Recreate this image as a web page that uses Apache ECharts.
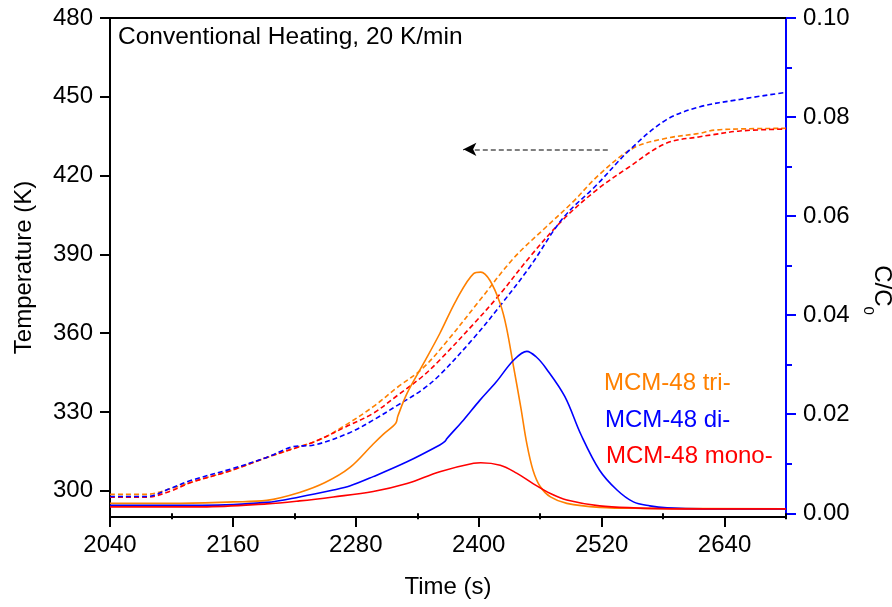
<!DOCTYPE html>
<html><head><meta charset="utf-8">
<script src="https://cdn.jsdelivr.net/npm/echarts@6/dist/echarts.min.js"></script>
<style>html,body{margin:0;padding:0;background:#fff}#c{width:892px;height:607px}</style>
</head><body><div id="c"></div>
<script>
// ---- tick labels ----
const timeTicks = [2040, 2160, 2280, 2400, 2520, 2640];
const timeMinorTicks = [2100, 2220, 2340, 2460, 2580, 2700];
const tempTicks = [300, 330, 360, 390, 420, 450, 480];
const ccTicks = [0, 0.02, 0.04, 0.06, 0.08, 0.10];
const ccMinorTicks = [0.01, 0.03, 0.05, 0.07, 0.09];

// ---- temperature (dashed, left axis) ----
const triTempTime = [2040, 2075, 2100, 2130, 2160, 2190, 2220, 2245, 2270, 2297, 2321, 2345, 2370, 2400, 2434, 2466, 2492, 2518, 2551, 2583, 2616, 2630, 2660, 2700];
const triTemp     = [298.6, 298.6, 300.9, 304.5, 307.9, 312.2, 316.2, 319.5, 325.0, 332.0, 339.5, 346.5, 357.4, 372.0, 388.5, 400.5, 410.0, 420.5, 430.5, 434.2, 436.1, 437.3, 437.8, 438.0];

const diTempTime = [2040, 2075, 2100, 2118, 2160, 2193, 2219, 2239, 2274, 2297, 2321, 2345, 2362, 2395, 2420, 2450, 2482, 2515, 2548, 2583, 2616, 2655, 2700];
const diTemp     = [297.8, 297.8, 301.0, 303.8, 308.5, 312.7, 316.8, 317.4, 322.1, 326.9, 332.6, 338.5, 344.1, 358.1, 370.0, 385.3, 403.7, 416.4, 430.0, 441.2, 446.2, 449.0, 451.7];

const monoTempTime = [2040, 2075, 2100, 2118, 2160, 2193, 2220, 2240, 2270, 2297, 2321, 2345, 2362, 2395, 2420, 2450, 2482, 2515, 2545, 2583, 2616, 2626, 2655, 2700];
const monoTemp     = [297.5, 297.5, 300.0, 303.0, 307.9, 312.7, 316.1, 318.7, 324.3, 329.5, 336.4, 343.5, 349.8, 363.5, 374.5, 389.1, 403.1, 414.5, 422.8, 432.3, 434.8, 435.4, 437.0, 437.7];

// ---- C/C0 (solid, right axis) ----
const triCTime = [2040, 2100, 2160, 2193, 2225, 2250, 2274, 2297, 2307, 2319, 2321, 2330, 2346, 2362, 2378, 2395, 2402, 2411, 2421, 2427, 2434, 2441, 2447, 2453, 2460, 2470, 2486, 2518, 2560, 2700];
const triC     = [0.0020, 0.0020, 0.0023, 0.0026, 0.0042, 0.0062, 0.0092, 0.0140, 0.0160, 0.0182, 0.0196, 0.0242, 0.0302, 0.0363, 0.0430, 0.0484, 0.0487, 0.0470, 0.0423, 0.0376, 0.0296, 0.0215, 0.0140, 0.0087, 0.0054, 0.0033, 0.0020, 0.0012, 0.0010, 0.0009];

const diCTime = [2040, 2130, 2193, 2225, 2258, 2274, 2297, 2330, 2362, 2367, 2369, 2385, 2401, 2417, 2434, 2447, 2456, 2466, 2484, 2500, 2518, 2535, 2551, 2567, 2584, 2620, 2700];
const diC     = [0.0016, 0.0016, 0.0022, 0.0033, 0.0047, 0.0055, 0.0074, 0.0104, 0.0138, 0.0145, 0.0151, 0.0188, 0.0228, 0.0265, 0.0309, 0.0327, 0.0316, 0.0292, 0.0236, 0.0158, 0.0087, 0.0047, 0.0023, 0.0015, 0.0011, 0.0009, 0.0009];

const monoCTime = [2040, 2130, 2193, 2225, 2258, 2297, 2330, 2362, 2395, 2402, 2421, 2437, 2453, 2470, 2486, 2518, 2551, 2600, 2700];
const monoC     = [0.0013, 0.0013, 0.0019, 0.0025, 0.0033, 0.0044, 0.0060, 0.0084, 0.0101, 0.0102, 0.0097, 0.0081, 0.0060, 0.0040, 0.0027, 0.0015, 0.0011, 0.0009, 0.0009];

// ---- annotation arrow (data coords) ----
const arrowFrom = [2526, 430];
const arrowTo = [2385, 430];
const arrowHeadFrom = [2392, 430];

const ORANGE = '#FF8000', BLUE = '#0000FF', RED = '#FF0000';
const FONT = '"Liberation Sans", Arial, Helvetica, sans-serif';
const pair = (t, v) => t.map((x, i) => [x, v[i]]);

const chart = echarts.init(document.getElementById('c'));
const baseLabel = { color: '#000', fontSize: 24, fontFamily: FONT };

function dashed(name, color, t, v, extra) {
  return Object.assign({
    name, type: 'line', xAxisIndex: 0, yAxisIndex: 0, data: pair(t, v),
    showSymbol: false, smooth: 0.35,
    lineStyle: { color, width: 1.6, type: [5, 3] }, z: 3
  }, extra || {});
}
function solid(name, color, t, v) {
  return {
    name, type: 'line', xAxisIndex: 0, yAxisIndex: 1, data: pair(t, v),
    showSymbol: false, smooth: 0.35,
    lineStyle: { color, width: 1.6 }, z: 4
  };
}

chart.setOption({
  animation: false,
  backgroundColor: '#fff',
  grid: { left: 110, right: 106, top: 18, bottom: 90, outerBoundsMode: 'none', containLabel: false },
  xAxis: [
    { type: 'value', min: 2040, max: 2700, position: 'bottom',
      name: 'Time (s)', nameLocation: 'middle', nameGap: 58,
      nameTextStyle: { color: '#000', fontSize: 24, fontFamily: FONT },
      axisLine: { show: true, onZero: false, lineStyle: { color: '#000', width: 2 } },
      axisTick: { show: true, length: 10, lineStyle: { color: '#000', width: 2 }, customValues: timeTicks },
      axisLabel: Object.assign({ margin: 16, customValues: timeTicks, formatter: v => String(v) }, baseLabel),
      splitLine: { show: false } },
    { type: 'value', min: 2040, max: 2700, position: 'bottom', gridIndex: 0,
      axisLine: { show: false },
      axisTick: { show: true, length: 6, lineStyle: { color: '#000', width: 2 }, customValues: timeMinorTicks },
      axisLabel: { show: false }, splitLine: { show: false } },
    { type: 'value', min: 2040, max: 2700, position: 'top', gridIndex: 0,
      axisLine: { show: true, onZero: false, lineStyle: { color: '#000', width: 2 } },
      axisTick: { show: false }, axisLabel: { show: false }, splitLine: { show: false } }
  ],
  yAxis: [
    { type: 'value', min: 290, max: 480, position: 'left',
      name: 'Temperature (K)', nameLocation: 'middle', nameGap: 74, nameRotate: 90,
      nameTextStyle: { color: '#000', fontSize: 24, fontFamily: FONT },
      axisLine: { show: true, onZero: false, lineStyle: { color: '#000', width: 2 } },
      axisTick: { show: true, length: 10, lineStyle: { color: '#000', width: 2 }, customValues: tempTicks },
      axisLabel: Object.assign({ margin: 17, customValues: tempTicks }, baseLabel),
      splitLine: { show: false } },
    { type: 'value', min: -0.00075, max: 0.1, position: 'right',
      name: '{a|C/C}{b|0}', nameLocation: 'middle', nameGap: 74, nameRotate: -90,
      nameTextStyle: { color: '#000', fontFamily: FONT, padding: [0, 0, 0, 45],
        rich: { a: { fontSize: 24, fontFamily: FONT, color: '#000', lineHeight: 24, verticalAlign: 'top' },
                b: { fontSize: 15, fontFamily: FONT, color: '#000', lineHeight: 33, verticalAlign: 'bottom' } } },
      axisLine: { show: true, onZero: false, lineStyle: { color: BLUE, width: 2 } },
      axisTick: { show: true, length: 10, lineStyle: { color: BLUE, width: 2 }, customValues: ccTicks },
      axisLabel: Object.assign({ margin: 17, customValues: ccTicks, formatter: v => v.toFixed(2) }, baseLabel),
      splitLine: { show: false } },
    { type: 'value', min: -0.00075, max: 0.1, position: 'right',
      axisLine: { show: false },
      axisTick: { show: true, length: 6, lineStyle: { color: BLUE, width: 2 }, customValues: ccMinorTicks },
      axisLabel: { show: false }, splitLine: { show: false } }
  ],
  series: [
    dashed('MCM-48 tri- T', ORANGE, triTempTime, triTemp, {
      markLine: {
        silent: true, symbol: ['none', 'none'], precision: 5,
        label: { show: false },
        lineStyle: { color: '#555', type: [5, 3], width: 1.6 },
        emphasis: { disabled: true },
        data: [
          [{ coord: arrowFrom }, { coord: arrowTo }],
          [{ coord: arrowHeadFrom, symbol: 'none', lineStyle: { color: '#000', type: 'solid', width: 1 } },
           { coord: arrowTo, symbol: 'arrow', symbolSize: [10, 13] }]
        ]
      }
    }),
    dashed('MCM-48 mono- T', RED, monoTempTime, monoTemp),
    dashed('MCM-48 di- T', BLUE, diTempTime, diTemp),
    solid('MCM-48 tri-', ORANGE, triCTime, triC),
    solid('MCM-48 di-', BLUE, diCTime, diC),
    solid('MCM-48 mono-', RED, monoCTime, monoC)
  ],
  graphic: [
    { type: 'text', left: 118, top: 25, style: { text: 'Conventional Heating, 20 K/min', fill: '#000', font: '24.5px ' + FONT } },
    { type: 'text', left: 604, top: 371, style: { text: 'MCM-48 tri-', fill: ORANGE, font: '24px ' + FONT } },
    { type: 'text', left: 605, top: 408, style: { text: 'MCM-48 di-', fill: BLUE, font: '24px ' + FONT } },
    { type: 'text', left: 606, top: 444, style: { text: 'MCM-48 mono-', fill: RED, font: '24px ' + FONT } }
  ]
});
</script>
</body></html>
